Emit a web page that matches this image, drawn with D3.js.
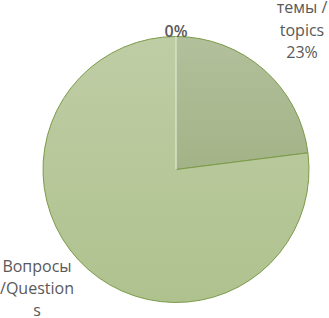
<!DOCTYPE html>
<html>
<head>
<meta charset="utf-8">
<script src="https://cdn.jsdelivr.net/npm/d3@7"></script>
<style>
  body { margin: 0; background: #fff; }
  text { font-family: "Open Sans", sans-serif; fill: #595959; }
</style>
</head>
<body>
<svg width="329" height="318"></svg>
<script>
var categories = ["", "темы / topics", "Вопросы /Questions"];
var values = [0, 23, 77];
var labelLines = [["0%"], ["темы /", "topics", "23%"], ["Вопросы", "/Question", "s"]];

var svg = d3.select("svg");
var cx = 176, cy = 169.5, radius = 133;

var defs = svg.append("defs");
var grad = defs.append("linearGradient")
    .attr("id", "gQ")
    .attr("x1", 0).attr("y1", 0).attr("x2", 0).attr("y2", 1);
grad.append("stop").attr("offset", "0%").attr("stop-color", "#bfcda5");
grad.append("stop").attr("offset", "100%").attr("stop-color", "#afc28e");
var grad2 = defs.append("linearGradient")
    .attr("id", "gT")
    .attr("x1", 0).attr("y1", 0).attr("x2", 0).attr("y2", 1);
grad2.append("stop").attr("offset", "0%").attr("stop-color", "#b3c09c");
grad2.append("stop").attr("offset", "100%").attr("stop-color", "#a3b387");

var fills = ["#c6d4ad", "url(#gT)", "url(#gQ)"];

var pie = d3.pie().sort(null).value(function(d) { return d; });
var arc = d3.arc().innerRadius(0).outerRadius(radius);
var arcs = pie(values);

var g = svg.append("g")
  .attr("transform", "translate(" + cx + "," + cy + ")");

g.selectAll("path.slice")
  .data(arcs)
  .enter().append("path")
    .attr("class", "slice")
    .attr("fill", function(d, i) { return fills[i]; })
    .attr("stroke", "#7a9a48")
    .attr("stroke-width", 1)
    .attr("d", arc);

// light divider where the empty slice sits
g.append("line")
  .attr("x1", 0).attr("y1", 0)
  .attr("x2", 0).attr("y2", -radius)
  .attr("stroke", "#e4ead8")
  .attr("stroke-width", 1.5);

// labels
var labelPos = [[176, 37], [302, 13], [37, 272]];
var lineGap = [0, 22.5, 22];
svg.selectAll("text.lbl")
  .data(labelLines)
  .enter().append("text")
    .attr("class", "lbl")
    .attr("text-anchor", "middle")
    .attr("font-size", 16)
    .attr("font-weight", function(d, i) { return i === 0 ? 600 : 400; })
    .attr("x", function(d, i) { return labelPos[i][0]; })
    .attr("y", function(d, i) { return labelPos[i][1]; })
  .each(function(lines, i) {
    var t = d3.select(this);
    lines.forEach(function(line, j) {
      t.append("tspan")
        .attr("x", labelPos[i][0])
        .attr("dy", j === 0 ? 0 : lineGap[i])
        .text(line);
    });
  });
</script>
</body>
</html>
